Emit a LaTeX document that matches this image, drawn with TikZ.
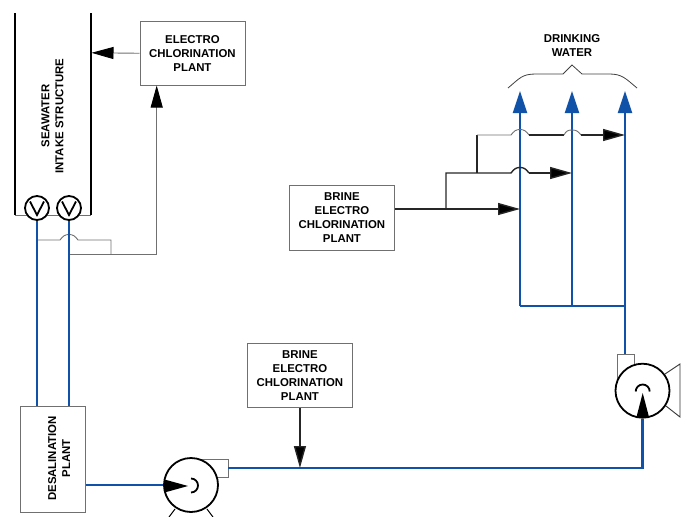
\documentclass[tikz,border=0pt]{standalone}
\usepackage{fontspec}
\setmainfont{Liberation Sans}
\usetikzlibrary{arrows.meta}
\definecolor{pipeblue}{HTML}{0F52A8}
\definecolor{thingray}{HTML}{707070}
\tikzset{
  x=1pt,y=-1pt,
  lbl/.style={font=\bfseries\fontsize{11.4}{14}\selectfont,align=center,inner sep=0pt},
  plant/.style={draw=thingray,line width=0.9pt,fill=white,inner sep=0pt,anchor=north west,lbl},
  pipe/.style={draw=pipeblue,line width=2.2pt},
  pipearrow/.style={pipe,-{Triangle[length=22pt,width=14pt,fill=pipeblue]}},
  feed/.style={draw=black!85,line width=1.4pt},
  feedarrow/.style={feed,-{Triangle[length=22pt,width=12pt,fill=black]}},
  thin line/.style={draw=thingray,line width=0.9pt},
  thinarrow/.style={thin line,-{Triangle[length=22pt,width=12pt,black,fill=black]}},
  wall/.style={draw=black,line width=1.7pt},
  pumpbody/.style={circle,draw=black,line width=1.8pt,fill=white,minimum size=54pt,inner sep=0pt},
  valve/.style={circle,draw=black,line width=1.8pt,fill=white,minimum size=24pt,inner sep=0pt},
}
\begin{document}
\begin{tikzpicture}
\useasboundingbox (0,0) rectangle (689,517);
% boxes
\node[plant,minimum width=105pt,minimum height=64pt] (ecp) at (139.5,20.8) {ELECTRO\\CHLORINATION\\PLANT};
\node[plant,minimum width=105pt,minimum height=65pt] (becp1) at (289,185) {BRINE\\ELECTRO\\CHLORINATION\\PLANT};
\node[plant,minimum width=105pt,minimum height=64pt] (becp2) at (247,343.3) {BRINE\\ELECTRO\\CHLORINATION\\PLANT};
\node[plant,minimum width=65pt,minimum height=105.5pt] (desal) at (20,406) {};
\node[lbl,rotate=90] (desaltxt) at (59.2,458.5) {DESALINATION\\PLANT};
% intake structure
\coordinate (wl1) at (15,13); \coordinate (wl2) at (15,215);
\coordinate (wr1) at (90.7,13); \coordinate (wr2) at (90.7,215);
\draw[wall] (wl1) -- (wl2);
\draw[wall] (wr1) -- (wr2);
\draw[thin line] (wl2) -- (wr2);
\node[lbl,rotate=90] (intake) at (52.5,116) {SEAWATER\\INTAKE STRUCTURE};
% valves
\node[valve] (v1) at (37,208) {};
\node[valve] (v2) at (69,208) {};
\draw[line width=1.8pt] (30,201.5) -- (37,215) -- (44,201.5);
\draw[line width=1.8pt] (62,201.5) -- (69,215) -- (76,201.5);
% desal pipes
\coordinate (d1) at (37,406); \coordinate (d2) at (69,406);
\coordinate (j1) at (37,240); \coordinate (j2) at (69,254);
\coordinate (j3) at (111,254); \coordinate (j4) at (156.7,254);
\coordinate (ecpin) at (156.7,85.5);
\coordinate (ecpout) at (91.5,52.8);
% intake dosing lines
\draw[thin line] (j1) -- (60,240) .. controls (63,236) and (65,234.5) .. (69,234.5) .. controls (73,234.5) and (75,236) .. (78,240) -- (111,240) -- (j3);
\draw[thinarrow] (j2) -- (j4) -- (ecpin);
\draw[thinarrow] (ecp.west) -- (ecpout);
\draw[pipe] (v1.south) -- (d1);
\draw[pipe] (v2.south) -- (d2);
% drinking water pipes
\coordinate (a1) at (520,91); \coordinate (a2) at (572,91); \coordinate (a3) at (625,91);
\coordinate (b1) at (520,306); \coordinate (b2) at (572,306); \coordinate (b3) at (625,306);
\coordinate (t3) at (625,354);
\draw[pipe] (t3) -- (b3);
\draw[pipe] (b1) -- (b3);
\draw[pipearrow] (b1) -- (a1);
\draw[pipearrow] (b2) -- (a2);
\draw[pipearrow] (b3) -- (a3);
% brine feed lines
\coordinate (f1) at (446,209); \coordinate (f2) at (446,173); \coordinate (f3) at (477,173); \coordinate (f4) at (477,135);
\coordinate (h1) at (520,209); \coordinate (h2) at (572,173); \coordinate (h3) at (625,135);
\draw[feedarrow] (becp1.east |- h1) -- (h1);
\draw[feed] (f1) -- (f2) -- (511,173) .. controls (514,169) and (516,167.5) .. (520,167.5) .. controls (524,167.5) and (526,169) .. (529,173);
\draw[feedarrow] (529,173) -- (h2);
\draw[feed] (f3) -- (f4);
\draw[thin line] (f4) -- (511,135) .. controls (514,131) and (516,129.5) .. (520,129.5) .. controls (524,129.5) and (526,131) .. (529,135);
\draw[feed] (529,135) -- (564,135);
\draw[thin line] (564,135) .. controls (566,131) and (568,130) .. (572,130) .. controls (576,130) and (578,131) .. (581,135);
\draw[feedarrow] (581,135) -- (h3);
% brace
\coordinate (br1) at (508,88); \coordinate (br2) at (637,88); \coordinate (brt) at (572,65);
\draw[draw=black!75,line width=0.8pt] (br1) .. controls (520,78) and (522,74) .. (536,74) -- (563,74) -- (brt) -- (582,74) -- (609,74) .. controls (622,74) and (625,78) .. (br2);
\node[lbl] (dw) at (572,46) {DRINKING\\WATER};
% right pump
\coordinate (sk1) at (665,374); \coordinate (sk2) at (680,364); \coordinate (sk3) at (680,417); \coordinate (sk4) at (666,406);
\draw[thin line,draw=black!80] (sk1) -- (sk2) -- (sk3) -- (sk4);
\coordinate (pb1) at (617,354); \coordinate (pb2) at (634,354);
\draw[thin line] (617,385) -- (pb1) -- (pb2) -- (634,366);
\node[pumpbody] (p2) at (642.5,390.7) {};
\draw[line width=1.8pt] (635.7,391.5) arc[start angle=180,end angle=0,radius=7pt];
\fill (642.7,393) -- (636.5,417) -- (649,417) -- cycle;
% left pump
\draw[black,line width=1pt] (175,509) -- (169,517);
\draw[black,line width=1pt] (207,509) -- (213,517);
\draw[thin line] (198,459.7) -- (228,459.7) -- (228,477) -- (216,477);
\node[pumpbody] (p1) at (191,485) {};
\draw[line width=1.8pt] (191,478.5) arc[start angle=90,end angle=-90,radius=7pt];
\fill (188,486) -- (164.5,479.5) -- (164.5,492.5) -- cycle;
% main pipes
\coordinate (m1) at (228,468);
\coordinate (ti) at (becp2.south |- m1);
\draw[pipe] (desal.east |- p1.west) -- (p1.west);
\draw[pipe] (m1) -- (p2.south |- m1) -- (p2.south);
\draw[feedarrow] (becp2.south) -- (ti);
\end{tikzpicture}
\end{document}
